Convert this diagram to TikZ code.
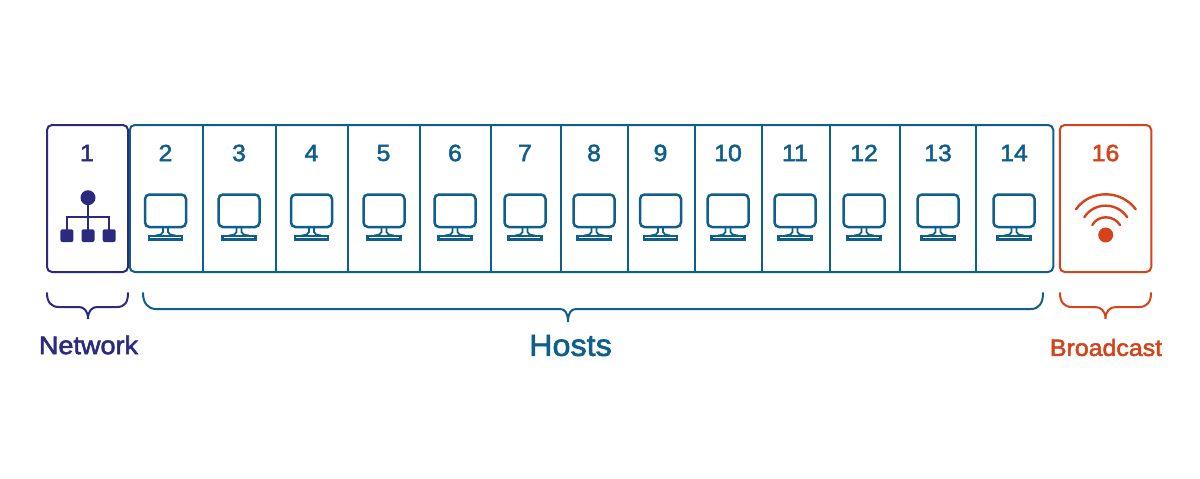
\documentclass[tikz,border=0pt]{standalone}
\usepackage{fontspec}
\setmainfont{Liberation Sans}
\newfontfamily\labfont{Liberation Sans}[FakeBold=2.2,FakeStretch=1.06]
\definecolor{netc}{HTML}{2B2A7E}
\definecolor{hostc}{HTML}{0F5F8C}
\definecolor{brc}{HTML}{D5431A}
\tikzset{
  x=1pt,y=-1pt,
  cellbox/.style={draw,line width=2pt,rounded corners=5pt},
  sepline/.style={draw=hostc,line width=2pt},
  numlabel/.style={font=\labfont\fontsize{23.5}{23.5}\selectfont,anchor=center,inner sep=0pt},
  bracelabel/.style={font=\labfont\fontsize{24}{24}\selectfont,anchor=center,inner sep=0pt},
  bracepath/.style={line width=2pt,line cap=round},
}
\newcommand{\monitorat}[2]{%
  \begin{scope}[shift={(#1,#2)},hostc]
    \draw[line width=2.5pt,rounded corners=4.5pt] (-20.5,-17.5) rectangle (20.5,15);
    \draw[line width=1.8pt] (-2.5,15) -- (-2.5,20) .. controls (-2.5,22) and (-5,23) .. (-10,23.5) (2.5,15) -- (2.5,20) .. controls (2.5,22) and (5,23) .. (10,23.5);
    \draw[line width=2.4pt] (-16.5,24) rectangle (16.5,27.5);
  \end{scope}}
\begin{document}
\begin{tikzpicture}
\useasboundingbox (0,0) rectangle (1200,479);
\fill[white] (0,0) rectangle (1200,479);
% boxes
\node[cellbox,draw=hostc,minimum width=923.5pt,minimum height=147pt,inner sep=0pt] (hostbox) at (591.5,198.5) {};
\node[cellbox,draw=netc,minimum width=81pt,minimum height=147pt,inner sep=0pt] (netbox) at (87.5,198.5) {};
\node[cellbox,draw=brc,minimum width=91.5pt,minimum height=147pt,inner sep=0pt] (brbox) at (1105.5,198.5) {};
% separators
\foreach \sx in {203,276,348,420,491,561,628,695,762,830,900,976}
  \draw[sepline] (\sx,125) -- (\sx,272);
% numbers
\node[numlabel,text=netc] (n1) at (87,153) {1};
\foreach \nx/\nn in {165.5/2,239/3,311.5/4,383.5/5,455/6,525/7,594/8,660.5/9,728/10,795/11,864/12,938/13,1014/14}
  \node[numlabel,text=hostc] (n\nn) at (\nx,153) {\nn};
\node[numlabel,text=brc] (n16) at (1105.5,153) {16};
% monitors
\foreach \mx in {165.5,239,311.5,384,455,525,594,660.5,728,795,864,938,1014}
  \monitorat{\mx}{212};
% network icon
\fill[netc] (88,197.7) circle (7.5);
\draw[netc,line width=2.3pt] (88,197.7) -- (88,237) (66.9,237) -- (66.9,216.7) -- (109.2,216.7) -- (109.2,237);
\foreach \ix in {66.9,88,109.2}
  \fill[netc,rounded corners=2pt] (\ix-6.5,229.3) rectangle (\ix+6.5,242);
% wifi icon
\fill[brc] (1105.7,235) circle (7.5);
\begin{scope}[brc,line width=2.4pt,line cap=round]
  \draw (1092.3,225) .. controls (1098,214.7) and (1113.5,214.7) .. (1120,225);
  \draw (1084.3,217.3) .. controls (1094,201.8) and (1117,201.8) .. (1127.3,217.3);
  \draw (1076,209.3) .. controls (1090,189.3) and (1121,189.3) .. (1135.7,209.3);
\end{scope}
% braces
\draw[netc,bracepath] (47,293) .. controls (47,302) and (51,307) .. (59,307) -- (79,307) .. controls (84,307) and (88,311) .. (88,319) .. controls (88,311) and (92,307) .. (97,307) -- (117,307) .. controls (125,307) and (128,302) .. (128,293);
\draw[hostc,bracepath] (143,293) .. controls (143,303) and (148,309) .. (156,309) -- (560,309) .. controls (565,309) and (568,313) .. (568,322) .. controls (568,313) and (571,309) .. (576,309) -- (1031,309) .. controls (1039,309) and (1043,303) .. (1043,293);
\draw[brc,bracepath] (1060,293) .. controls (1060,302) and (1064,307) .. (1072,307) -- (1095,307) .. controls (1101,307) and (1105.5,311) .. (1105.5,319) .. controls (1105.5,311) and (1110,307) .. (1116,307) -- (1139,307) .. controls (1147,307) and (1151,302) .. (1151,293);
% labels
\node[bracelabel,text=netc,font=\labfont\fontsize{25.5}{25.5}\selectfont] (lnet) at (88.5,345) {Network};
\node[bracelabel,text=hostc,font=\labfont\fontsize{30.5}{30.5}\selectfont] (lhost) at (570.5,345.5) {Hosts};
\node[bracelabel,text=brc,font=\labfont\fontsize{23.5}{23.5}\selectfont] (lbr) at (1106,347.5) {Broadcast};
\end{tikzpicture}
\end{document}
